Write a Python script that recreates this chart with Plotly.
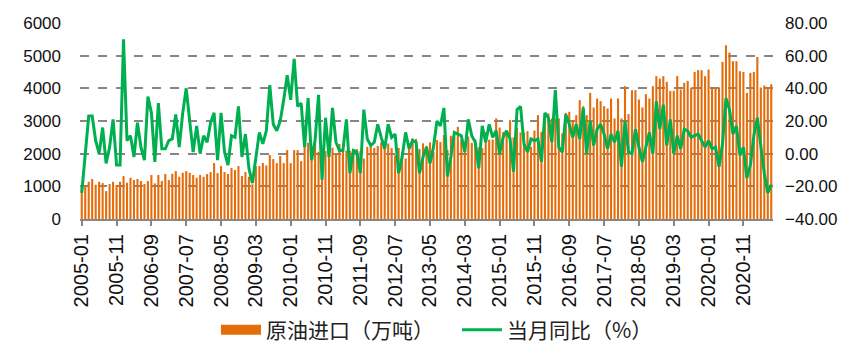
import plotly.graph_objects as go

# categories: monthly 2005-01 .. 2021-07
months = [f"{y}-{m:02d}" for y in range(2005, 2022) for m in range(1, 13)][:199]

tick_labels = ["2005-01", "2005-11", "2006-09", "2007-07", "2008-05", "2009-03",
               "2010-01", "2010-11", "2011-09", "2012-07", "2013-05", "2014-03",
               "2015-01", "2015-11", "2016-09", "2017-07", "2018-05", "2019-03",
               "2020-01", "2020-11"]

crude_imports = [
    1039, 1039, 1141, 1223, 1050, 1141, 1100, 855, 1070, 1141, 1039, 1141,
    1314, 1110, 1263, 1192, 1223, 1161, 1070, 1161, 1345, 1090, 1345, 1161,
    1376, 1192, 1386, 1467, 1294, 1416, 1467, 1416, 1345, 1263, 1345, 1294,
    1376, 1437, 1712, 1406, 1620, 1437, 1376, 1559, 1498, 1620, 1315, 1437,
    1294, 1060, 1620, 1620, 1712, 1640, 1956, 1834, 1712, 1926, 1712, 2109,
    1712, 2109, 2109, 1773, 2232, 2334, 2079, 2313, 2058, 1905, 2079, 2200,
    2183, 2000, 2296, 2094, 2096, 2083, 2081, 2141, 2073, 1850, 2209, 2217,
    2175, 2235, 2345, 2263, 2310, 2170, 1950, 2176, 2049, 1850, 2304, 2470,
    2450, 2141, 2317, 2240, 2344, 2052, 2414, 2358, 2570, 2114, 2548, 2503,
    2820, 2433, 2323, 2524, 2328, 2436, 2192, 2170, 2657, 2428, 2434, 3080,
    2798, 2663, 2647, 3026, 2500, 2785, 2650, 2644, 2690, 2208, 2705, 3181,
    2670, 3230, 3230, 3077, 3077, 3077, 2619, 3250, 3281, 3026, 3179, 3638,
    3454, 3179, 3862, 3414, 3689, 3607, 3454, 3383, 3689, 3077, 3689, 3077,
    4066, 3210, 3944, 3944, 3658, 3414, 3821, 3689, 4066, 4372, 4300, 4372,
    4198, 3923, 3923, 4372, 3964, 4168, 4229, 4025, 4504, 4555, 4555, 4372,
    4575, 4025, 4025, 4025, 4810, 5319, 5095, 4830, 4830, 4524, 4504, 3862,
    4473, 4504, 4963, 4025, 4086, 4025, 4127,
]

yoy_pct = [
    -24, 0, 23, 23, 8, 0, 16, -6, 4, 21, -7, -7,
    70, 8, 11, -2, 19, 4, -4, 35, 25, -5, 31, 3,
    3, 8, 9, 24, 4, 25, 40, 20, 1, 17, 0, 11,
    7, 19, 25, -4, 25, 1, -7, 11, 10, 29, -2, 12,
    -9, -18, -2, 13, 6, 14, 42, 18, 14, 20, 33, 48,
    33, 58, 29, 31, 4, 34, -4, 8, 36, -16, 22, -2,
    28, 7, 2, 2, 21, -12, 2, 1, -12, 27, 9, 5,
    7, 18, 10, 3, 18, 10, 12, -12, -2, 13, 3, 8,
    7, -12, -2, 4, -6, 4, 20, 17, 28, -14, -2, 13,
    12, 11, 1, 21, 11, 7, -9, 17, 7, 18, 10, 14,
    0, 10, 14, 9, -11, 27, 29, 6, 1, 9, 8, 9,
    -5, 25, 22, 7, 39, 4, 1, 24, 18, 10, 18, 9,
    28, 0, 20, 5, 15, 18, 12, 3, 12, 7, 14, -8,
    20, 1, 0, 15, 4, -5, 4, 13, 0, 32, 15, 30,
    5, 21, 0, 11, 3, 15, 14, 10, 11, 12, 8, 4,
    8, 3, 4, -8, 6, 34, 27, 12, 17, -1, 4, -15,
    -7, 11, 22, 4, -12, -24, -19,
]

assert len(crude_imports) == len(months) == len(yoy_pct)

FONT = "Liberation Sans, Arial, sans-serif"
CJK = "Noto Sans CJK SC, sans-serif"
GRID = "#868686"
ORANGE = "#E46C0A"
GREEN = "#00B050"
SERIES_NAMES = ["原油进口（万吨）", "当月同比（%）"]

fig = go.Figure()
fig.add_trace(go.Bar(
    x=months, y=crude_imports, name=SERIES_NAMES[0],
    marker=dict(color=ORANGE, line=dict(width=0)),
    yaxis="y", showlegend=False,
))
# legend swatch for the bars (wide rectangle like the reference)
fig.add_trace(go.Scatter(
    x=[None], y=[None], name=SERIES_NAMES[0], mode="lines",
    line=dict(color=ORANGE, width=16), yaxis="y", hoverinfo="skip",
))
fig.add_trace(go.Scatter(
    x=months, y=yoy_pct, name=SERIES_NAMES[1], mode="lines",
    line=dict(color=GREEN, width=3),
    yaxis="y2",
))

fig.update_layout(
    width=864, height=364,
    margin=dict(l=72, r=99, t=15, b=153, autoexpand=False),
    paper_bgcolor="white", plot_bgcolor="white",
    bargap=0.4,
    showlegend=True,
    legend=dict(orientation="h", xref="container", yref="container",
                x=0.2407, xanchor="left", y=0.115, yanchor="middle",
                entrywidth=186, entrywidthmode="pixels",
                font=dict(family=CJK, size=21, color="#222"), itemwidth=40,
                traceorder="normal"),
    xaxis=dict(
        type="category", categoryorder="array", categoryarray=months,
        range=[-0.5, len(months) - 0.5], automargin=False,
        tickmode="array", tickvals=tick_labels, ticktext=tick_labels,
        tickangle=-90, ticks="outside", ticklen=5, tickcolor=GRID, tickwidth=1.5,
        showline=True, linecolor=GRID, linewidth=2,
        showgrid=False, zeroline=False,
        tickfont=dict(family=FONT, size=20, color="#111"),
    ),
    yaxis=dict(
        range=[0, 6000], tickmode="linear", tick0=0, dtick=1000, automargin=False,
        showgrid=True, gridcolor=GRID, griddash="dash", gridwidth=1.5,
        zeroline=False, showline=False, ticks="", ticklabelstandoff=18,
        tickfont=dict(family=FONT, size=17, color="#111"),
    ),
    yaxis2=dict(
        range=[-40, 80], tickmode="linear", tick0=-40, dtick=20, automargin=False,
        tickformat=".2f", overlaying="y", side="right", ticklabelstandoff=11,
        showgrid=False, zeroline=False, showline=False, ticks="",
        tickfont=dict(family=FONT, size=17, color="#111"),
    ),
)

fig.write_html("out.html")
